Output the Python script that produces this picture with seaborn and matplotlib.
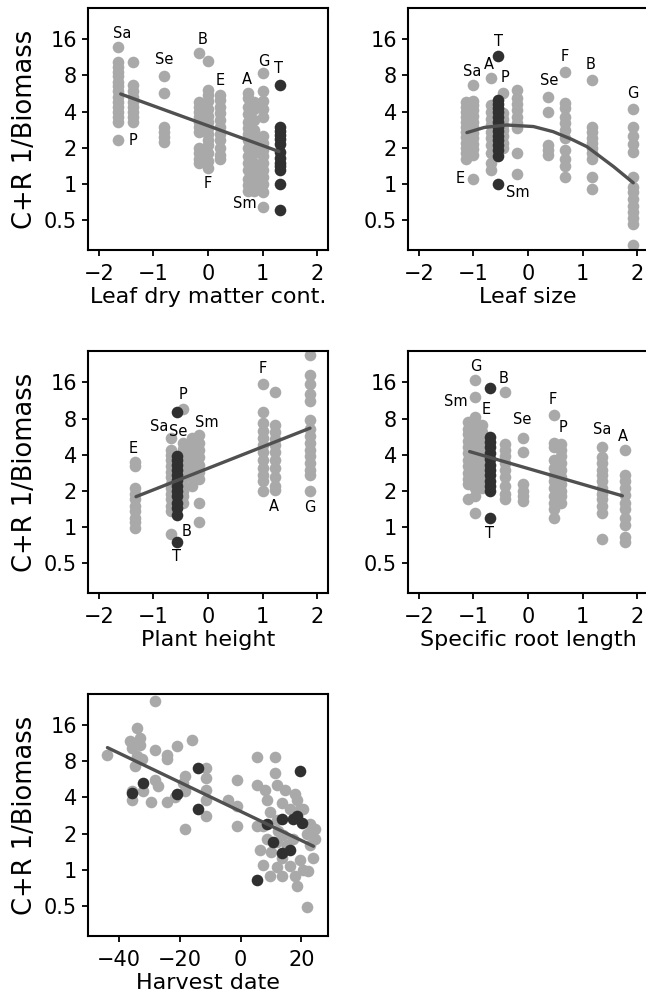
import numpy as np
import pandas as pd
import seaborn as sns
import matplotlib
matplotlib.use('Agg')
import matplotlib.pyplot as plt
from matplotlib.ticker import NullLocator

sns.set_style('ticks')
plt.rcParams['font.family'] = ['DejaVu Sans']
plt.rcParams['text.color'] = 'black'
plt.rcParams['axes.labelcolor'] = 'black'
plt.rcParams['xtick.color'] = 'black'
plt.rcParams['ytick.color'] = 'black'

GREY = '#a9a9a9'
DARK = '#303030'
LINE = '#505050'

# ---- panel 1: leaf dry matter content (one column per species) ----
ldmc_x = [-1.65, -1.37, -0.80, -0.16, 0.0, 0.22, 0.74, 0.85, 1.0, 1.32]
ldmc_y = [
    [13.8, 10.4, 9.4, 8.6, 7.9, 7.1, 6.5, 5.9, 5.3, 4.8, 4.4, 4.0, 3.6, 3.3, 2.3],
    [10.4, 6.6, 5.9, 5.3, 4.8, 4.4, 4.0, 3.6, 3.3],
    [7.9, 5.7, 3.0, 2.7, 2.45, 2.25],
    [12.2, 4.8, 4.4, 4.0, 3.6, 3.3, 3.0, 2.7, 2.0, 1.8, 1.6, 1.5],
    [10.6, 6.0, 5.5, 4.9, 4.2, 3.7, 3.3, 2.9, 2.6, 2.3, 2.1, 1.8, 1.55, 1.35],
    [5.5, 5.0, 4.4, 3.9, 3.4, 3.0, 2.6, 2.3, 2.0, 1.75, 1.6],
    [5.7, 5.2, 4.4, 3.8, 3.3, 2.9, 2.6, 2.3, 2.0, 1.7, 1.5, 1.3, 1.1, 0.98, 0.87],
    [4.8, 4.2, 3.4, 2.8, 2.4, 2.1, 1.8, 1.5, 1.3, 1.15, 1.0, 0.88],
    [8.4, 5.9, 4.9, 4.2, 3.6, 2.5, 2.2, 1.9, 1.7, 1.5, 1.3, 1.15, 1.0, 0.86, 0.64],
    [6.7, 3.0, 2.75, 2.55, 2.35, 2.15, 1.85, 1.65, 1.5, 1.4, 1.3, 1.0, 0.61],
]
ldmc_dark = [False] * 9 + [True]
ldmc_fit_x = [-1.6, 1.3]
ldmc_fit_y = [5.6, 1.86]
ldmc_lab = ['Sa', 'Se', 'B', 'E', 'A', 'G', 'T', 'P', 'F', 'Sm']
ldmc_lab_x = [-1.58, -0.80, -0.10, 0.22, 0.71, 1.02, 1.29, -1.37, 0.0, 0.68]
ldmc_lab_y = [18.0, 10.8, 16.0, 7.3, 7.4, 10.4, 9.2, 2.3, 1.0, 0.68]

# ---- panel 2: leaf size ----
lsize_x = [-1.13, -1.0, -0.67, -0.55, -0.45, -0.2, 0.37, 0.67, 1.17, 1.92]
lsize_y = [
    [4.8, 4.4, 4.0, 3.6, 3.3, 3.0, 2.7, 2.45, 2.2, 2.0, 1.8, 1.6],
    [6.6, 4.9, 4.5, 4.1, 3.7, 3.3, 2.95, 2.65, 2.4, 2.15, 1.95, 1.75, 1.1],
    [7.6, 4.5, 4.0, 3.5, 3.1, 2.7, 2.4, 2.1, 1.8, 1.5, 1.3],
    [11.5, 5.0, 4.6, 4.3, 4.0, 3.6, 3.3, 3.0, 2.75, 2.5, 2.3, 2.1, 1.9, 1.7, 1.0],
    [5.7, 3.9, 3.5, 3.1, 2.8, 2.5, 2.2, 2.0],
    [6.0, 5.2, 4.6, 4.1, 3.6, 3.2, 2.9, 1.8, 1.2],
    [5.3, 4.0, 2.1, 1.9, 1.75],
    [8.5, 4.7, 4.3, 3.6, 3.2, 2.8, 2.4, 1.9, 1.6, 1.4, 1.15],
    [7.3, 3.0, 2.7, 2.4, 2.2, 2.0, 1.8, 1.6, 1.15, 0.9],
    [4.2, 3.0, 2.5, 2.15, 1.85, 1.15, 0.95, 0.85, 0.75, 0.66, 0.58, 0.52, 0.46, 0.31],
]
lsize_dark = [False, False, False, True] + [False] * 6
lsize_fit_x = [-1.12, -0.8, -0.39, 0.1, 0.46, 0.8, 1.08, 1.57, 1.93]
lsize_fit_y = [2.67, 2.95, 3.09, 3.0, 2.72, 2.35, 2.04, 1.39, 1.02]
lsize_lab = ['T', 'Sa', 'A', 'P', 'Se', 'F', 'B', 'G', 'E', 'Sm']
lsize_lab_x = [-0.55, -1.03, -0.72, -0.42, 0.39, 0.68, 1.15, 1.93, -1.25, -0.18]
lsize_lab_y = [15.3, 8.6, 9.8, 7.7, 7.3, 11.5, 9.8, 5.6, 1.1, 0.85]

# ---- panel 3: plant height ----
height_x = [-1.34, -0.68, -0.57, -0.45, -0.3, -0.17, 1.0, 1.22, 1.87]
height_y = [
    [3.5, 3.2, 2.1, 1.9, 1.7, 1.5, 1.35, 1.2, 1.1, 0.98],
    [5.5, 4.4, 4.0, 3.6, 3.2, 2.9, 2.6, 2.3, 2.1, 1.9, 1.7, 1.5, 1.35, 0.88],
    [9.1, 3.9, 3.6, 3.3, 3.0, 2.7, 2.45, 2.2, 2.0, 1.8, 1.6, 1.45, 1.25, 0.75],
    [9.6, 5.0, 4.5, 4.0, 3.5, 3.1, 2.8, 2.5, 2.2, 2.0, 1.8, 1.6],
    [5.5, 4.9, 4.3, 3.8, 3.3, 2.9, 2.6, 2.2],
    [5.8, 5.0, 4.4, 3.8, 3.3, 2.9, 2.5, 1.6, 1.1],
    [15.6, 9.0, 7.3, 6.3, 5.5, 4.8, 4.2, 3.6, 3.1, 2.7, 2.4, 2.0],
    [13.2, 7.1, 6.2, 5.4, 4.8, 4.2, 3.6, 3.1, 2.6, 2.2, 2.05],
    [27.0, 18.5, 15.4, 12.7, 11.3, 7.8, 6.6, 5.7, 5.0, 4.4, 3.9, 3.4, 3.0, 2.7, 2.0],
]
height_dark = [False, False, True] + [False] * 6
height_fit_x = [-1.32, 1.87]
height_fit_y = [1.79, 6.66]
height_lab = ['P', 'Sa', 'Se', 'Sm', 'E', 'B', 'T', 'F', 'A', 'G']
height_lab_x = [-0.46, -0.89, -0.54, -0.02, -1.37, -0.39, -0.57, 1.0, 1.2, 1.87]
height_lab_y = [12.6, 6.9, 6.3, 7.4, 4.5, 0.92, 0.57, 21.0, 1.48, 1.45]

# ---- panel 4: specific root length ----
srl_x = [-1.1, -0.98, -0.85, -0.7, -0.43, -0.1, 0.47, 0.6, 1.36, 1.77]
srl_y = [
    [7.5, 6.6, 5.9, 5.2, 4.6, 4.1, 3.6, 3.2, 2.8, 2.5, 2.3, 1.7],
    [16.8, 12.0, 8.2, 7.3, 6.5, 5.8, 5.0, 4.4, 3.9, 3.5, 3.1, 2.7, 2.4, 2.1, 1.8, 1.3],
    [7.1, 6.2, 5.4, 4.8, 4.2, 3.7, 3.2, 2.8, 2.4, 2.1],
    [14.3, 5.6, 5.1, 4.6, 4.1, 3.7, 3.3, 3.0, 2.7, 2.4, 2.2, 2.0, 1.2],
    [13.4, 4.9, 4.4, 3.9, 3.4, 3.0, 2.6, 2.2, 1.9, 1.7],
    [5.5, 4.2, 2.3, 2.0, 1.8, 1.65],
    [8.6, 5.0, 4.6, 3.6, 3.1, 2.7, 2.4, 2.1, 1.8, 1.6, 1.4, 1.2],
    [4.9, 4.4, 3.9, 3.4, 3.0, 2.6, 2.3, 2.0, 1.8, 1.6],
    [4.6, 3.8, 3.4, 3.0, 2.7, 2.4, 2.1, 1.9, 1.7, 1.5, 1.3, 0.8],
    [4.4, 2.7, 2.4, 2.1, 1.85, 1.6, 1.4, 1.2, 1.05, 0.82, 0.75],
]
srl_dark = [False, False, False, True] + [False] * 6
srl_fit_x = [-1.07, 1.73]
srl_fit_y = [4.25, 1.82]
srl_lab = ['G', 'B', 'Sm', 'E', 'Se', 'F', 'P', 'Sa', 'A', 'T']
srl_lab_x = [-0.965, -0.44, -1.32, -0.77, -0.1, 0.45, 0.65, 1.36, 1.74, -0.7]
srl_lab_y = [21.8, 17.4, 11.1, 9.6, 7.9, 11.6, 6.7, 6.5, 5.7, 0.88]

# ---- panel 5: harvest date (individual points) ----
harvest_grey_x = [-44.1, -36.4, -34.2, -33.1, -33.1, -35.8, -34.2, -32.5, -34.7, -35.8,
                  -35.8, -32.0, -28.2, -28.2, -28.2, -27.1, -29.3, -24.3, -24.3, -21.0,
                  -24.3, -21.6, -18.3, -18.8, -18.3, -16.1, -18.3, -11.2, -11.2, -11.2,
                  -11.2, -11.2, -4.0, -1.3, -1.3, -1.3,
                  5.3, 11.3, 11.3, 5.3, 8.0, 8.6, 11.9, 14.6, 17.9, 18.5,
                  13.5, 19.6, 20.7, 22.8, 24.5, 24.5, 24.0, 5.3, 7.5, 9.7,
                  11.9, 6.4, 8.6, 11.9, 14.1, 15.2, 17.4, 7.5, 9.7, 11.9,
                  13.5, 13.5, 16.3, 18.0, 18.5, 19.6, 20.7, 22.3, 21.8, 16.3,
                  23.0, 22.0, 10.0, 12.5]
harvest_grey_y = [9.1, 11.8, 15.2, 12.6, 11.0, 10.3, 8.8, 8.4, 7.3, 4.5,
                  3.8, 4.5, 25.4, 10.0, 5.6, 5.0, 3.7, 9.1, 8.4, 10.7,
                  3.7, 4.0, 6.0, 5.3, 4.5, 12.1, 2.2, 7.1, 5.8, 4.6,
                  3.8, 2.8, 3.8, 5.6, 3.4, 2.3,
                  8.7, 8.7, 6.4, 5.1, 4.6, 3.8, 5.1, 4.6, 4.3, 3.8,
                  3.6, 3.2, 3.2, 2.4, 2.2, 1.8, 1.25, 2.3, 2.3, 3.0,
                  2.6, 1.47, 1.8, 1.7, 1.96, 1.6, 1.8, 1.1, 0.88, 1.05,
                  1.25, 0.88, 1.07, 0.88, 0.73, 1.2, 1.0, 0.98, 0.49, 3.2,
                  1.6, 2.0, 1.4, 2.1]
harvest_dark_x = [-35.8, -32.0, -21.0, -13.9, -13.9, 5.3, 8.6, 10.8, 13.5, 13.5,
                  16.3, 17.4, 19.6, 20.1, 18.5]
harvest_dark_y = [4.35, 5.3, 4.3, 7.1, 3.2, 0.82, 2.4, 1.7, 2.65, 1.38,
                  1.46, 2.65, 6.6, 2.45, 2.8]
harvest_fit_x = [-43.8, 24.0]
harvest_fit_y = [10.4, 1.57]

YTICKS = [0.5, 1, 2, 4, 8, 16]
YTICKLABELS = ['0.5', '1', '2', '4', '8', '16']
YLABEL = 'C+R 1/Biomass'


def column_frame(xs, ys, dark):
    rows = []
    for x, yy, d in zip(xs, ys, dark):
        for y in yy:
            rows.append((x, y, d))
    return pd.DataFrame(rows, columns=['x', 'y', 'dark'])


def style_axis(ax, xlabel, ylabel, xlim, xticks):
    ax.set_yscale('log', base=2)
    ax.set_ylim(0.281, 29.1)
    ax.set_yticks(YTICKS)
    ax.set_yticklabels(YTICKLABELS)
    ax.yaxis.set_minor_locator(NullLocator())
    ax.set_xlim(*xlim)
    ax.set_xticks(xticks)
    ax.set_xlabel(xlabel, fontsize=16, labelpad=2)
    if ylabel:
        ax.set_ylabel(ylabel, fontsize=18.5, labelpad=4)
    else:
        ax.set_ylabel('')
    ax.tick_params(axis='both', labelsize=15, length=4, width=1.3, direction='out')
    ax.tick_params(axis='x', pad=6)
    ax.tick_params(axis='y', pad=4)
    for sp in ax.spines.values():
        sp.set_linewidth(1.5)
        sp.set_color('black')


def draw_points(ax, grey, dark):
    sns.scatterplot(data=grey, x='x', y='y', color=GREY, s=70, linewidth=0,
                    legend=False, ax=ax, zorder=2)
    sns.scatterplot(data=dark, x='x', y='y', color=DARK, s=70, linewidth=0,
                    legend=False, ax=ax, zorder=3)


def trait_panel(ax, xs, ys, dark, fit_x, fit_y, labs, lab_x, lab_y, xlabel, ylabel):
    df = column_frame(xs, ys, dark)
    draw_points(ax, df[~df['dark']], df[df['dark']])
    sns.lineplot(x=fit_x, y=fit_y, ax=ax, color=LINE, lw=2.4, zorder=4)
    for t, x, y in zip(labs, lab_x, lab_y):
        ax.text(x, y, t, fontsize=10.5, ha='center', va='center', zorder=5)
    style_axis(ax, xlabel, ylabel, (-2.2, 2.2), [-2, -1, 0, 1, 2])


fig = plt.figure(figsize=(6.46, 10.05), dpi=100)
W, H = 240 / 646, 242 / 1005
L1, L2 = 88 / 646, 408 / 646
B1, B2, B3 = 0.7512, 0.4097, 0.0687

ax1 = fig.add_axes([L1, B1, W, H])
trait_panel(ax1, ldmc_x, ldmc_y, ldmc_dark, ldmc_fit_x, ldmc_fit_y,
            ldmc_lab, ldmc_lab_x, ldmc_lab_y, 'Leaf dry matter cont.', YLABEL)

ax2 = fig.add_axes([L2, B1, W, H])
trait_panel(ax2, lsize_x, lsize_y, lsize_dark, lsize_fit_x, lsize_fit_y,
            lsize_lab, lsize_lab_x, lsize_lab_y, 'Leaf size', None)

ax3 = fig.add_axes([L1, B2, W, H])
trait_panel(ax3, height_x, height_y, height_dark, height_fit_x, height_fit_y,
            height_lab, height_lab_x, height_lab_y, 'Plant height', YLABEL)

ax4 = fig.add_axes([L2, B2, W, H])
trait_panel(ax4, srl_x, srl_y, srl_dark, srl_fit_x, srl_fit_y,
            srl_lab, srl_lab_x, srl_lab_y, 'Specific root length', None)

ax5 = fig.add_axes([L1, B3, W, H])
grey5 = pd.DataFrame({'x': harvest_grey_x, 'y': harvest_grey_y})
dark5 = pd.DataFrame({'x': harvest_dark_x, 'y': harvest_dark_y})
draw_points(ax5, grey5, dark5)
sns.lineplot(x=harvest_fit_x, y=harvest_fit_y, ax=ax5, color=LINE, lw=2.4, zorder=4)
style_axis(ax5, 'Harvest date', YLABEL, (-50.2, 28.8), [-40, -20, 0, 20])

fig.savefig('out.png', dpi=100)
